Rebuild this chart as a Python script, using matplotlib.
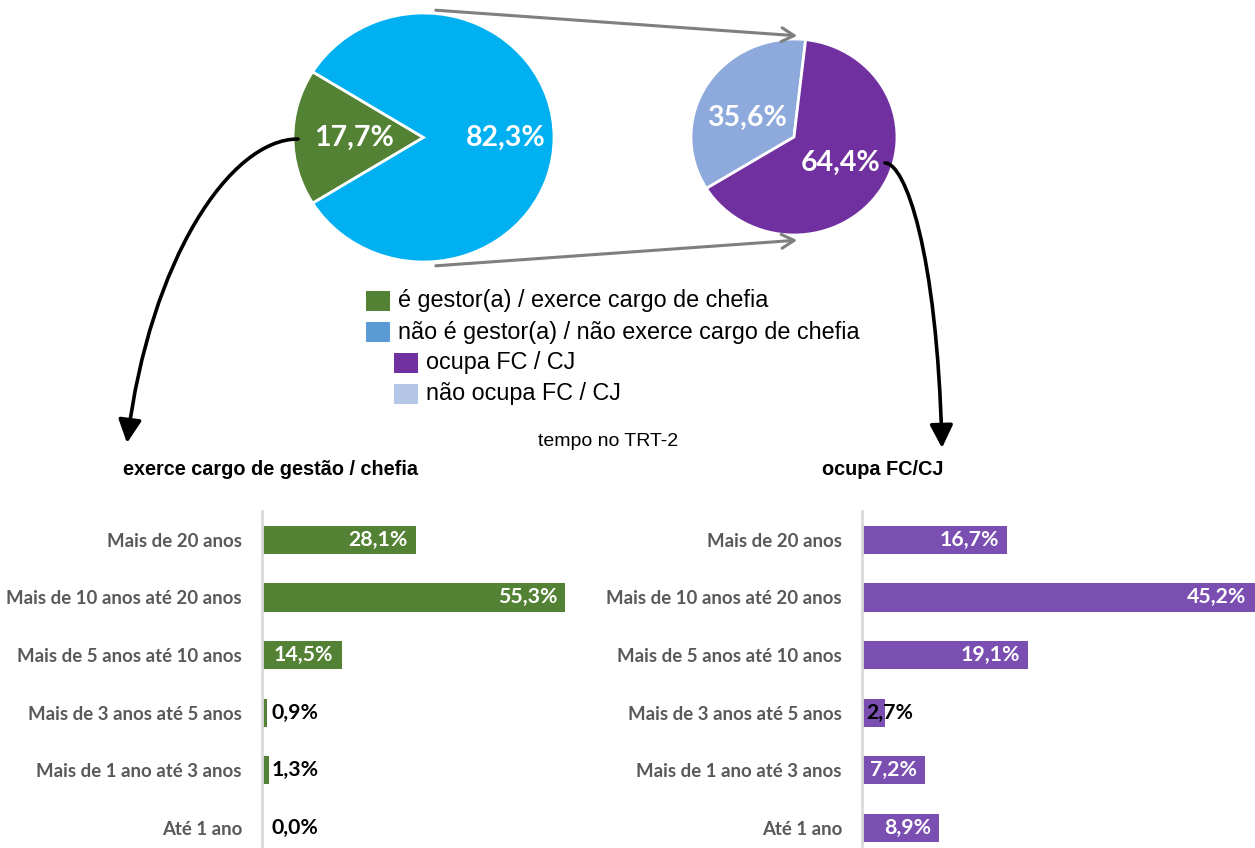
import matplotlib
matplotlib.use("Agg")
import matplotlib.pyplot as plt
from matplotlib.patches import Rectangle, FancyArrowPatch
from matplotlib.path import Path
import numpy as np

W, H = 1255, 848

# pie data
gestor_labels = ["é gestor(a) / exerce cargo de chefia", "não é gestor(a) / não exerce cargo de chefia"]
gestor_vals = [17.7, 82.3]
fc_labels = ["não ocupa FC / CJ", "ocupa FC / CJ"]
fc_vals = [35.6, 64.4]

# bar data
categorias = ["Mais de 20 anos", "Mais de 10 anos até 20 anos", "Mais de 5 anos até 10 anos",
              "Mais de 3 anos até 5 anos", "Mais de 1 ano até 3 anos", "Até 1 ano"]
chefia_vals = [28.1, 55.3, 14.5, 0.9, 1.3, 0.0]
fccj_vals = [16.7, 45.2, 19.1, 2.7, 7.2, 8.9]

GREEN = "#548235"
CYAN = "#00B0F0"
PURPLE = "#7030A0"
LIGHT = "#8EA9DB"
BAR_PURPLE = "#7B4FB1"
LABEL_GRAY = "#595959"
CAL = ["Lato", "DejaVu Sans"]
ARIAL = ["Liberation Sans", "DejaVu Sans"]


def fx(x):
    return x / W


def fy(y):
    return 1 - y / H


def box(x0, y0, x1, y1):
    # pixel box (top-left origin) -> axes rect
    return [fx(x0), fy(y1), (x1 - x0) / W, (y1 - y0) / H]


fig = plt.figure(figsize=(W / 100, H / 100), dpi=100)


def pct(p):
    return f"{p:.1f}%".replace(".", ",")


# left pie (image is slightly squashed vertically, so no equal aspect)
ax1 = fig.add_axes(box(293, 13, 554, 262))
_, _, t1 = ax1.pie(gestor_vals, colors=[GREEN, CYAN], startangle=180 - gestor_vals[0] * 1.8,
                   autopct=pct, pctdistance=0.56,
                   wedgeprops=dict(edgecolor="white", linewidth=2),
                   textprops=dict(color="white", fontsize=20.5, fontweight="bold", family=CAL))
t1[0].set_position((-0.53, 0.0))
t1[1].set_position((0.63, 0.0))
ax1.set_aspect("auto")
ax1.set_xlim(-1, 1)
ax1.set_ylim(-1, 1)

# right pie
ax2 = fig.add_axes(box(691, 39, 897, 235))
_, _, t2 = ax2.pie(fc_vals, colors=[LIGHT, PURPLE], startangle=83.5,
                   autopct=pct, pctdistance=0.53,
                   wedgeprops=dict(edgecolor="white", linewidth=2),
                   textprops=dict(color="white", fontsize=20.5, fontweight="bold", family=CAL))
t2[0].set_position((-0.46, 0.2))
t2[1].set_position((0.45, -0.26))
ax2.set_aspect("auto")
ax2.set_xlim(-1, 1)
ax2.set_ylim(-1, 1)

# gray connector arrows
for (a, b) in [((433, 10), (800, 36)), ((433, 266), (800, 240))]:
    arr = FancyArrowPatch((fx(a[0]), fy(a[1])), (fx(b[0]), fy(b[1])), transform=fig.transFigure,
                          arrowstyle="->,head_length=9,head_width=5", color="#7F7F7F", lw=2.2,
                          mutation_scale=1)
    fig.add_artist(arr)


# black curved arrows
def curve(pts):
    verts = [(fx(x), fy(y)) for x, y in pts]
    p = Path(verts, [Path.MOVETO, Path.CURVE4, Path.CURVE4, Path.CURVE4])
    a = FancyArrowPatch(path=p, transform=fig.transFigure,
                        arrowstyle="-|>,head_length=14,head_width=7", color="black", lw=2.6,
                        mutation_scale=1)
    fig.add_artist(a)


curve([(298, 139), (230, 139), (150, 260), (127, 443)])
curve([(885, 163), (905, 163), (937, 250), (942, 448)])

# legend
leg_items = [(gestor_labels[0], GREEN, 366, 301), (gestor_labels[1], "#5B9BD5", 366, 332),
             (fc_labels[1], PURPLE, 394, 363), (fc_labels[0], "#B4C7E7", 394, 394)]
for txt, col, x, y in leg_items:
    fig.add_artist(Rectangle((fx(x), fy(y + 10)), 24 / W, 20 / H, transform=fig.transFigure,
                             facecolor=col, edgecolor="none"))
    fig.text(fx(x + 32), fy(y), txt, fontsize=16.8, family=ARIAL, va="center", ha="left")

fig.text(fx(608), fy(442), "tempo no TRT-2", fontsize=14, family=ARIAL, ha="center", va="center")
fig.text(fx(123), fy(470), "exerce cargo de gestão / chefia", fontsize=14.3, fontweight="bold",
         family=ARIAL, ha="left", va="center")
fig.text(fx(822), fy(470), "ocupa FC/CJ", fontsize=14.3, fontweight="bold",
         family=ARIAL, ha="left", va="center")


def bar_panel(rect, vals, color, xmax, inside_min, black_offset):
    ax = fig.add_axes(rect)
    y = np.arange(len(categorias))
    ax.barh(y, vals, height=0.49, color=color)
    ax.set_xlim(0, xmax)
    ax.set_ylim(5.35, -0.5)
    ax.set_yticks(y)
    ax.set_yticklabels(categorias, fontsize=13.4, fontweight="bold", color=LABEL_GRAY, family=CAL)
    ax.tick_params(axis="y", length=0, pad=14.4)
    ax.set_xticks([])
    for s in ["top", "right", "bottom"]:
        ax.spines[s].set_visible(False)
    ax.spines["left"].set_color("#D9D9D9")
    ax.spines["left"].set_linewidth(2)
    ax.patch.set_alpha(0)
    for yi, v in zip(y, vals):
        if v >= inside_min:
            ax.annotate(pct(v), (v, yi), xytext=(-8, 0), textcoords="offset pixels",
                        ha="right", va="center", color="white", fontsize=15.3, fontweight="bold",
                        family=CAL)
        else:
            ax.annotate(pct(v), (0, yi), xytext=(black_offset, 0), textcoords="offset pixels",
                        ha="left", va="center", color="black", fontsize=15.3, fontweight="bold",
                        family=CAL)
    return ax


bar_panel(box(262, 511, 591, 848), chefia_vals, GREEN, 60.0, 5, 10)
bar_panel(box(862, 511, 1255, 848), fccj_vals, BAR_PURPLE, 45.25, 5, 4)

fig.savefig("out.png", dpi=100)
